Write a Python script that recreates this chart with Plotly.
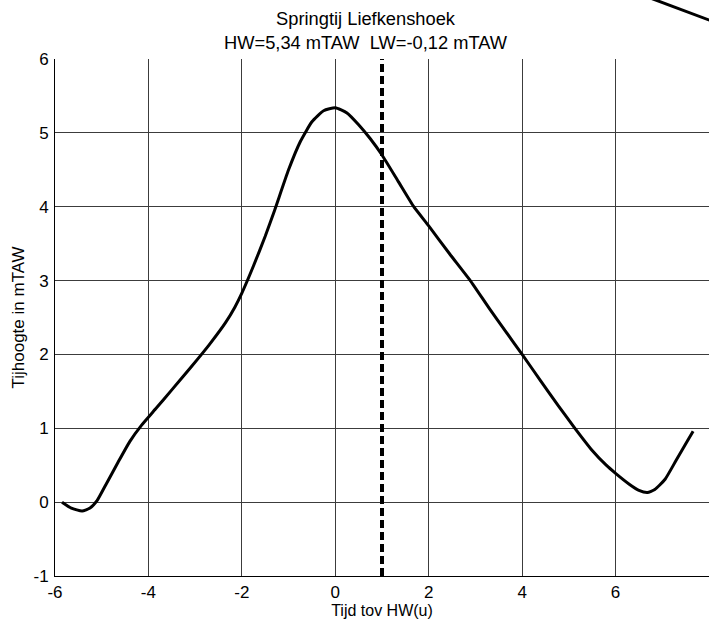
import plotly.graph_objects as go

# Tide curve (time relative to HW in hours, water level in mTAW)
t_hours = [-5.85, -5.65, -5.42, -5.25, -5.1, -4.9, -4.65, -4.4, -4.15, -3.85, -3.5,
           -3.1, -2.7, -2.35, -2.15, -2.0, -1.75, -1.5, -1.3, -1.0, -0.75, -0.5, -0.25,
           0.0, 0.25, 0.5, 0.75, 1.0, 1.35, 1.68, 2.0, 2.45, 2.89, 3.3, 3.65, 4.0,
           4.4, 4.78, 5.13, 5.5, 5.8, 6.0, 6.3, 6.5, 6.68, 6.84, 7.06, 7.3, 7.54, 7.66]
level = [0.0, -0.08, -0.12, -0.08, 0.02, 0.25, 0.54, 0.82, 1.04, 1.26, 1.52,
         1.82, 2.13, 2.43, 2.64, 2.83, 3.2, 3.6, 3.95, 4.5, 4.88, 5.15, 5.30,
         5.34, 5.27, 5.11, 4.92, 4.70, 4.34, 4.0, 3.74, 3.36, 3.0, 2.62, 2.31, 2.0,
         1.64, 1.30, 1.0, 0.70, 0.50, 0.39, 0.24, 0.16, 0.13, 0.17, 0.31, 0.57, 0.83, 0.96]

hw_marker_x = [1, 1]
hw_marker_y = [-1, 6]

x_ticks = [-6, -4, -2, 0, 2, 4, 6, 8]
y_ticks = [-1, 0, 1, 2, 3, 4, 5, 6]

title_text = "Springtij Liefkenshoek<br>HW=5,34 mTAW&nbsp;&nbsp;LW=-0,12 mTAW"
x_title = "Tijd tov HW(u)"
y_title = "Tijhoogte in mTAW"

FONT = "Liberation Sans, Arial, sans-serif"

fig = go.Figure()
fig.add_trace(go.Scatter(x=t_hours, y=level, mode="lines",
                         line=dict(color="black", width=3, shape="spline", smoothing=0.5),
                         showlegend=False, hoverinfo="skip"))
fig.add_trace(go.Scatter(x=hw_marker_x, y=hw_marker_y, mode="lines",
                         line=dict(color="black", width=4, dash="8px,4px"),
                         showlegend=False, hoverinfo="skip"))

fig.update_layout(
    width=709, height=621,
    margin=dict(l=55, r=0, t=59, b=45),
    paper_bgcolor="white", plot_bgcolor="white",
    font=dict(family=FONT, size=17, color="black"),
    showlegend=False,
    xaxis=dict(range=[-6, 8], tickvals=x_ticks, ticktext=[str(v) for v in x_ticks],
               showgrid=True, gridcolor="#3c3c3c", gridwidth=1,
               showline=True, linecolor="black", linewidth=1,
               zeroline=False, ticks="", ticklabelstandoff=1,
               tickfont=dict(size=17),
               title=dict(text=x_title, standoff=0, font=dict(size=16))),
    yaxis=dict(range=[-1, 6], tickvals=y_ticks, ticktext=[str(v) for v in y_ticks],
               showgrid=True, gridcolor="#3c3c3c", gridwidth=1,
               showline=True, linecolor="black", linewidth=1,
               zeroline=False, ticks="", ticklabelstandoff=2,
               tickfont=dict(size=17),
               title=dict(text=y_title, standoff=4, font=dict(size=17))),
    annotations=[dict(text=title_text, xref="paper", yref="paper",
                      x=0.4755, y=1 + (59 - 30.5) / 517, xanchor="center", yanchor="middle",
                      showarrow=False, font=dict(size=18.3, family=FONT))],
    shapes=[dict(type="line", xref="paper", yref="paper",
                 x0=0.910, y0=1.118, x1=1.02, y1=1.066,
                 line=dict(color="black", width=3))],
)

fig.write_html("out.html")
